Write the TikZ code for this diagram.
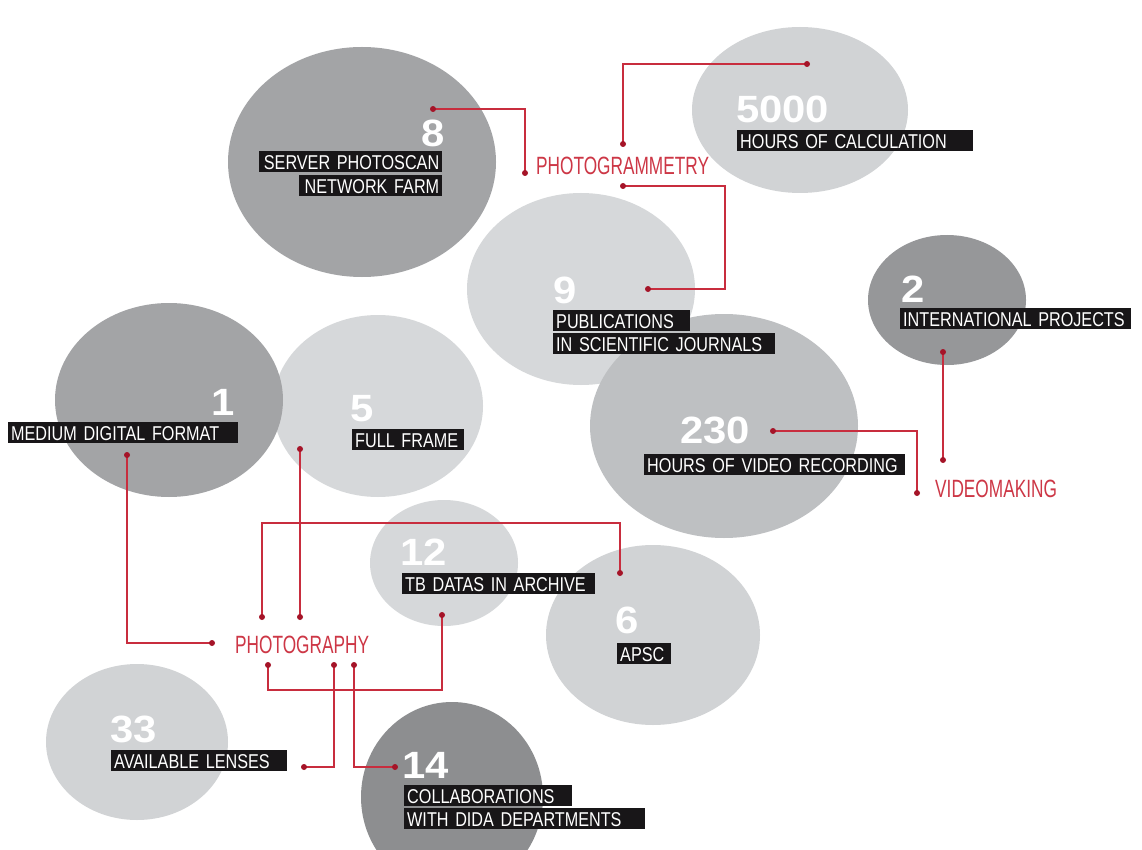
\documentclass[tikz,border=0pt]{standalone}
\usepackage{fontspec}
\setmainfont{Liberation Sans}
\newfontfamily\lblfnt[FakeStretch=0.81]{Liberation Sans}
\newfontfamily\redfnt[FakeStretch=0.69]{Liberation Sans}
\newfontfamily\numfnt[FakeStretch=1.1]{Liberation Sans}
\usetikzlibrary{shapes.geometric}
\definecolor{wirered}{RGB}{200,45,62}
\definecolor{dotred}{RGB}{165,20,40}
\definecolor{catred}{RGB}{205,55,70}
\definecolor{lblbg}{RGB}{24,22,24}
\definecolor{gdark}{RGB}{150,151,153}
\definecolor{gmid}{RGB}{163,164,166}
\definecolor{gmed}{RGB}{190,192,194}
\definecolor{glight}{RGB}{209,211,213}
\definecolor{glighter}{RGB}{214,216,218}
\definecolor{gdeep}{RGB}{141,142,144}
\pgfdeclarelayer{back}
\pgfdeclarelayer{mid}
\pgfsetlayers{back,mid,main}
\tikzset{
  blob/.style={ellipse, draw=none, inner sep=0pt, outer sep=0pt},
  lbl/.style={fill=lblbg, text=white, font=\lblfnt\fontsize{20}{20}\selectfont,
    inner xsep=3pt, inner ysep=1.5pt, text height=17pt, text depth=1pt,
    anchor=north west, align=left},
  num/.style={text=white, font=\numfnt\bfseries\fontsize{38}{38}\selectfont, inner sep=0pt, anchor=base west},
  cat/.style={text=catred, font=\redfnt\fontsize{25}{25}\selectfont, inner sep=0pt, anchor=base west},
  dot/.style={circle, fill=dotred, inner sep=0pt, minimum size=6pt},
  wire/.style={draw=wirered, line width=1.7pt}
}
\begin{document}
\begin{tikzpicture}[x=1pt,y=-1pt]
\useasboundingbox (0,0) rectangle (1142,850);
\begin{pgfonlayer}{back}
\fill[white] (0,0) rectangle (1142,850);
\node[blob, fill=gmid, minimum width=268pt, minimum height=230pt] (b8) at (362,162) {};
\node[blob, fill=glight, minimum width=216pt, minimum height=166pt] (b5000) at (800,110) {};
\node[blob, fill=glighter, minimum width=228pt, minimum height=192pt] (b9) at (581,289) {};
\node[blob, fill=gdark, minimum width=158pt, minimum height=130pt] (b2) at (947,300) {};
\node[blob, fill=gmed, minimum width=268pt, minimum height=224pt] (b230) at (724,426) {};
\node[blob, fill=glighter, minimum width=210pt, minimum height=182pt] (b5) at (378,406) {};
\node[blob, fill=gmid, minimum width=228pt, minimum height=194pt] (b1) at (169,400) {};
\node[blob, fill=glighter, minimum width=148pt, minimum height=126pt] (b12) at (444,563) {};
\node[blob, fill=glight, minimum width=214pt, minimum height=180pt] (b6) at (653,635) {};
\node[blob, fill=glight, minimum width=182pt, minimum height=156pt] (b33) at (137,742) {};
\node[blob, fill=gdeep, minimum width=182pt, minimum height=190pt] (b14) at (452,797) {};
\end{pgfonlayer}

% labels
\node[lbl, text width=177pt, align=right] (l8a) at (259,151) {\mbox{SERVER PHOTOSCAN}};
\node[lbl, text width=137pt, align=right] (l8b) at (299,175) {\mbox{NETWORK FARM}};
\node[lbl, text width=230pt] (l5000) at (737,130) {\mbox{HOURS OF CALCULATION}};
\node[lbl, text width=131pt] (l9a) at (553,310) {\mbox{PUBLICATIONS}};
\node[lbl, text width=216pt] (l9b) at (553,333) {\mbox{IN SCIENTIFIC JOURNALS}};
\node[lbl, text width=225pt] (l2) at (900,308) {\mbox{INTERNATIONAL PROJECTS}};
\node[lbl, text width=255pt] (l230) at (644,454) {\mbox{HOURS OF VIDEO RECORDING}};
\node[lbl, text width=224pt] (l1) at (8,422) {\mbox{MEDIUM DIGITAL FORMAT}};
\node[lbl, text width=106pt] (l5) at (352,429) {\mbox{FULL FRAME}};
\node[lbl, text width=187pt] (l12) at (402,573) {\mbox{TB DATAS IN ARCHIVE}};
\node[lbl, text width=48pt] (l6) at (617,643) {\mbox{APSC}};
\node[lbl, text width=170pt] (l33) at (111,750) {\mbox{AVAILABLE LENSES}};
\node[lbl, text width=162pt] (l14a) at (404,785) {\mbox{COLLABORATIONS}};
\node[lbl, text width=235pt] (l14b) at (404,808) {\mbox{WITH DIDA DEPARTMENTS}};

% numbers
\node[num, anchor=base east] (n8) at (445,147) {8};
\node[num] (n5000) at (736,123) {5000};
\node[num] (n9) at (553,303) {9};
\node[num] (n2) at (901,302) {2};
\node[num] (n230) at (680,443) {230};
\node[num, anchor=base east] (n1) at (235,415) {1};
\node[num] (n5) at (350,421) {5};
\node[num] (n12) at (400,565) {12};
\node[num] (n6) at (615,633) {6};
\node[num] (n33) at (110,742) {33};
\node[num] (n14) at (402,778) {14};

% category labels
\node[cat] (pgm) at (536,175) {PHOTOGRAMMETRY};
\node[cat] (vm) at (935,497) {VIDEOMAKING};
\node[cat] (ph) at (235,653) {PHOTOGRAPHY};

% dots
\node[dot] (d8) at (433,109) {};
\node[dot] (dpgL) at (525,173) {};
\node[dot] (dpgT) at (623,144) {};
\node[dot] (d5000) at (807,64) {};
\node[dot] (dpgB) at (623,186) {};
\node[dot] (d9) at (648,289) {};
\coordinate (k9) at (725,289);
\node[dot] (d230) at (773,431) {};
\node[dot] (dvm) at (917,493) {};
\node[dot] (d2) at (943,352) {};
\node[dot] (dvm2) at (943,460) {};
\node[dot] (d1) at (127,455) {};
\node[dot] (dphL) at (212,643) {};
\node[dot] (d5) at (300,449) {};
\node[dot] (dph5) at (300,617) {};
\node[dot] (dph6) at (262,617) {};
\coordinate (k6) at (620,523);
\node[dot] (d6) at (620,573) {};
\node[dot] (d12) at (442,615) {};
\coordinate (k12) at (442,690);
\node[dot] (dph12) at (268,665) {};
\node[dot] (dph33) at (334,665) {};
\node[dot] (d33) at (304,767) {};
\node[dot] (dph14) at (354,665) {};
\node[dot] (d14) at (395,767) {};

\begin{pgfonlayer}{mid}
\draw[wire] (d8.center) -| (dpgL.center);
\draw[wire] (dpgT.center) |- (d5000.center);
\draw[wire] (dpgB.center) -| (k9) -- (d9.center);
\draw[wire] (d230.center) -| (dvm.center);
\draw[wire] (d2.center) -- (dvm2.center);
\draw[wire] (d1.center) |- (dphL.center);
\draw[wire] (d5.center) -- (dph5.center);
\draw[wire] (dph6.center) |- (k6) -- (d6.center);
\draw[wire] (d12.center) -- (k12) -| (dph12.center);
\draw[wire] (dph33.center) |- (d33.center);
\draw[wire] (dph14.center) |- (d14.center);
\end{pgfonlayer}
\end{tikzpicture}
\end{document}
